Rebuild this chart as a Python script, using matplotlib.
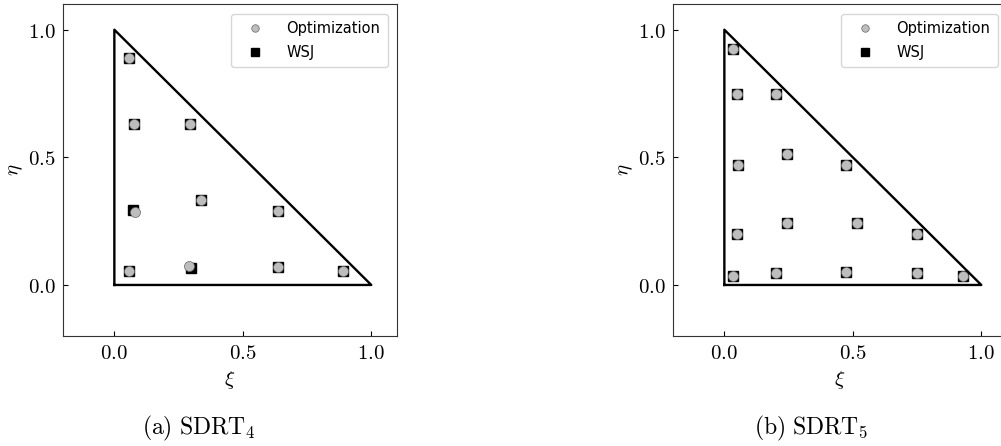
import matplotlib
matplotlib.use("Agg")
import matplotlib.pyplot as plt
from matplotlib.ticker import FormatStrFormatter

plt.rcParams['mathtext.fontset'] = 'cm'

# triangle outline of the reference element
tri_xi = [0.0, 1.0, 0.0, 0.0]
tri_eta = [0.0, 0.0, 1.0, 0.0]

# SDRT_4 points
sdrt4_opt_xi = [0.058, 0.075, 0.295, 0.336, 0.079, 0.636, 0.058, 0.292, 0.636, 0.890]
sdrt4_opt_eta = [0.889, 0.631, 0.631, 0.331, 0.287, 0.291, 0.055, 0.074, 0.072, 0.055]
sdrt4_wsj_xi = [0.058, 0.075, 0.295, 0.336, 0.074, 0.636, 0.058, 0.298, 0.636, 0.890]
sdrt4_wsj_eta = [0.889, 0.631, 0.631, 0.331, 0.292, 0.291, 0.055, 0.068, 0.072, 0.055]

# SDRT_5 points
sdrt5_opt_xi = [0.035, 0.050, 0.200, 0.053, 0.243, 0.472, 0.050, 0.243, 0.515,
                0.749, 0.035, 0.200, 0.472, 0.749, 0.928]
sdrt5_opt_eta = [0.925, 0.749, 0.749, 0.471, 0.514, 0.471, 0.199, 0.241, 0.241,
                 0.199, 0.035, 0.046, 0.051, 0.046, 0.035]
sdrt5_wsj_xi = sdrt5_opt_xi
sdrt5_wsj_eta = sdrt5_opt_eta

panels = [
    (sdrt4_opt_xi, sdrt4_opt_eta, sdrt4_wsj_xi, sdrt4_wsj_eta, r'$\mathrm{(a)\ SDRT}_4$'),
    (sdrt5_opt_xi, sdrt5_opt_eta, sdrt5_wsj_xi, sdrt5_wsj_eta, r'$\mathrm{(b)\ SDRT}_5$'),
]
ticks = [0.0, 0.5, 1.0]

fig = plt.figure(figsize=(10.01, 4.46), dpi=100)
axes_left = [0.0629, 0.6723]
caption_x = [0.199, 0.810]

for i, (oxi, oeta, wxi, weta, caption) in enumerate(panels):
    ax = fig.add_axes([axes_left[i], 0.2466, 0.3337, 0.744])
    ax.plot(tri_xi, tri_eta, color='black', lw=1.7, zorder=1)
    hw, = ax.plot(wxi, weta, 's', color='black', markersize=7, ls='none', zorder=2)
    ho, = ax.plot(oxi, oeta, 'o', markerfacecolor='#bdbdbd', markeredgecolor='#666666',
                  markeredgewidth=0.5, markersize=7.2, ls='none', zorder=3)
    ax.set_xlim(-0.2, 1.1)
    ax.set_ylim(-0.2, 1.1)
    ax.set_xticks(ticks)
    ax.set_yticks(ticks)
    ax.xaxis.set_major_formatter(FormatStrFormatter(r'$%.1f$'))
    ax.yaxis.set_major_formatter(FormatStrFormatter(r'$%.1f$'))
    ax.tick_params(direction='in', labelsize=15, pad=5)
    for s in ax.spines.values():
        s.set_edgecolor('#333333')
    ax.set_xlabel(r'$\xi$', fontsize=15)
    ax.set_ylabel(r'$\eta$', fontsize=15, labelpad=2)
    ax.legend([ho, hw], ['Optimization', 'WSJ'], loc='upper right', fontsize=10.5,
              markerscale=0.75, borderpad=0.5, handlelength=2.3, handletextpad=1.0,
              borderaxespad=0.65, labelspacing=0.6)
    fig.text(caption_x[i], 1 - 428 / 446, caption, ha='center', va='center', fontsize=17)

fig.savefig('out.png', dpi=100)
